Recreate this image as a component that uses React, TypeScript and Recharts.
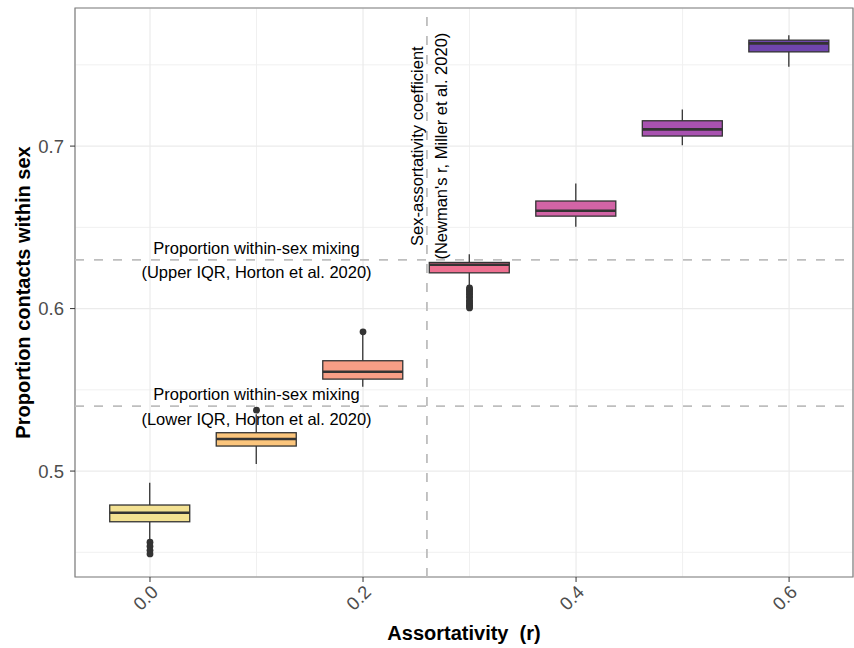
import {
  Bar,
  CartesianGrid,
  ComposedChart,
  Label,
  ReferenceArea,
  ReferenceLine,
  Scatter,
  XAxis,
  YAxis,
} from "recharts";

// assortativity r values and box statistics
const assortativity = [0, 0.1, 0.2, 0.3, 0.4, 0.5, 0.6];
const whiskerLow = [0.458, 0.5043, 0.5519, 0.6134, 0.6503, 0.7006, 0.7488];
const lowerQuartile = [0.4688, 0.5154, 0.5566, 0.622, 0.6569, 0.7062, 0.758];
const medians = [0.4743, 0.5197, 0.5611, 0.627, 0.6602, 0.7103, 0.7632];
const upperQuartile = [0.4791, 0.5236, 0.5679, 0.6284, 0.6662, 0.7156, 0.7652];
const whiskerHigh = [0.4928, 0.535, 0.5837, 0.6335, 0.677, 0.7226, 0.7683];

const outlierR = [
  0, 0, 0, 0, 0.1, 0.2,
  0.3, 0.3, 0.3, 0.3, 0.3, 0.3, 0.3, 0.3, 0.3, 0.3, 0.3, 0.3, 0.3,
];
const outlierValues = [
  0.4562, 0.4538, 0.4512, 0.449, 0.5375, 0.5857,
  0.6128, 0.6117, 0.6109, 0.6096, 0.6088, 0.6074, 0.6066, 0.6051, 0.6043, 0.6032, 0.6021, 0.6013, 0.6004,
];

const xTicks = [0, 0.2, 0.4, 0.6];
const yTicks = [0.5, 0.6, 0.7];
const xMinor = [0.1, 0.3, 0.5];
const yMinor = [0.45, 0.55, 0.65, 0.75];

const hortonUpper = 0.63;
const hortonLower = 0.54;
const newmanR = 0.26;
const noteX = 0.1;
const newmanNoteY = 0.7;

const upperNote = ["Proportion within-sex mixing", "(Upper IQR, Horton et al. 2020)"];
const lowerNote = ["Proportion within-sex mixing", "(Lower IQR, Horton et al. 2020)"];
const newmanNote = ["Sex-assortativity coefficient", "(Newman's r, Miller et al. 2020)"];

const BOX_FILLS = ["#F3E192", "#FBC57C", "#F89E86", "#EE7090", "#D264A6", "#A852B0", "#6F45AE"];
const X_DOMAIN = [-0.0704, 0.66];
const Y_DOMAIN = [0.4348, 0.785];
const FONT = "'Liberation Sans', Arial, sans-serif";

const boxes = assortativity.map((r, i) => ({
  r,
  lo: whiskerLow[i],
  q1: lowerQuartile[i],
  med: medians[i],
  q3: upperQuartile[i],
  hi: whiskerHigh[i],
}));
const outliers = outlierR.map((r, i) => ({ r, value: outlierValues[i] }));

// minor grid: use the axis scale when it is handed over, else map across the plot offset
const minorVertical = ({ xAxis, offset }: any) => {
  if (xAxis && typeof xAxis.scale === "function") return xMinor.map((v) => xAxis.scale(v));
  const left = offset?.left ?? 75;
  const w = offset?.width ?? 778;
  return xMinor.map((v) => left + ((v - X_DOMAIN[0]) / (X_DOMAIN[1] - X_DOMAIN[0])) * w);
};
const minorHorizontal = ({ yAxis, offset }: any) => {
  if (yAxis && typeof yAxis.scale === "function") return yMinor.map((v) => yAxis.scale(v));
  const top = offset?.top ?? 8;
  const h = offset?.height ?? 569;
  return yMinor.map((v) => top + ((Y_DOMAIN[1] - v) / (Y_DOMAIN[1] - Y_DOMAIN[0])) * h);
};

function BoxShape(props: any) {
  const { x, y, width, height, payload, index } = props;
  const top = Math.min(y, y + height);
  const h = Math.abs(height);
  const k = h / (payload.q3 - payload.q1);
  const toY = (v: number) => top + (payload.q3 - v) * k;
  const cx = x + width / 2;
  const ink = "#333333";
  return (
    <g>
      <line x1={cx} x2={cx} y1={toY(payload.hi)} y2={top} stroke={ink} strokeWidth={1.3} />
      <line x1={cx} x2={cx} y1={top + h} y2={toY(payload.lo)} stroke={ink} strokeWidth={1.3} />
      <rect x={x} y={top} width={width} height={h} fill={BOX_FILLS[index]} stroke={ink} strokeWidth={1.3} />
      <line x1={x} x2={x + width} y1={toY(payload.med)} y2={toY(payload.med)} stroke={ink} strokeWidth={2.6} />
    </g>
  );
}

function HorizontalNote({ cx, cy, lines }: any) {
  return (
    <text x={cx} textAnchor="middle" fontSize={16.5} fill="#000">
      <tspan x={cx} y={cy - 6}>{lines[0]}</tspan>
      <tspan x={cx} y={cy + 18.5}>{lines[1]}</tspan>
    </text>
  );
}

// label of the vertical reference line; its height is placed along the y range
function NewmanLabel({ viewBox }: any) {
  const cx = viewBox.x;
  const frac = (Y_DOMAIN[1] - newmanNoteY) / (Y_DOMAIN[1] - Y_DOMAIN[0]);
  const cy = viewBox.y + frac * viewBox.height;
  return (
    <text transform={`rotate(-90, ${cx}, ${cy})`} textAnchor="middle" fontSize={16.5} fill="#000">
      <tspan x={cx} y={cy - 4}>{newmanNote[0]}</tspan>
      <tspan x={cx} y={cy + 20}>{newmanNote[1]}</tspan>
    </text>
  );
}

function XTick({ x, y, payload }: any) {
  return (
    <text
      x={x}
      y={y}
      dy="0.71em"
      transform={`rotate(-45, ${x}, ${y})`}
      textAnchor="end"
      fontSize={18.5}
      fill="#4D4D4D"
    >
      {payload.value.toFixed(1)}
    </text>
  );
}

export default function App() {
  return (
    <div style={{ width: 854, height: 648, fontFamily: FONT, background: "#fff" }}>
      <style>{`body { margin: 0; }`}</style>
      <ComposedChart
        width={854}
        height={648}
        data={boxes}
        margin={{ top: 8, right: 1, bottom: 0, left: 0 }}
      >
        <CartesianGrid
          stroke="#F0F0F0"
          strokeWidth={1}
          verticalCoordinatesGenerator={minorVertical}
          horizontalCoordinatesGenerator={minorHorizontal}
        />
        <CartesianGrid stroke="#EBEBEB" strokeWidth={1.2} />
        <XAxis
          type="number"
          dataKey="r"
          domain={X_DOMAIN}
          allowDataOverflow
          ticks={xTicks}
          height={71}
          axisLine={false}
          tickLine={{ stroke: "#333" }}
          tickSize={5}
          tickMargin={2}
          tick={<XTick />}
        >
          <Label
            content={({ viewBox }: any) => (
              <text
                x={viewBox.x + viewBox.width / 2}
                y={viewBox.y + 63}
                textAnchor="middle"
                fontSize={20}
                fontWeight="bold"
                fill="#000"
                style={{ whiteSpace: "pre" }}
              >
                Assortativity  (r)
              </text>
            )}
          />
        </XAxis>
        <YAxis
          type="number"
          domain={Y_DOMAIN}
          allowDataOverflow
          ticks={yTicks}
          width={75}
          axisLine={false}
          tickLine={{ stroke: "#333" }}
          tickSize={5}
          tickMargin={6}
          tickFormatter={(v: number) => v.toFixed(1)}
          tick={{ fill: "#4D4D4D", fontSize: 18.5 }}
        >
          <Label
            content={({ viewBox }: any) => {
              const tx = viewBox.x + 30;
              const ty = viewBox.y + viewBox.height / 2;
              return (
                <text
                  x={tx}
                  y={ty}
                  transform={`rotate(-90, ${tx}, ${ty})`}
                  textAnchor="middle"
                  fontSize={20}
                  fontWeight="bold"
                  fill="#000"
                >
                  Proportion contacts within sex
                </text>
              );
            }}
          />
        </YAxis>
        <ReferenceLine y={hortonUpper} stroke="#BEBEBE" strokeWidth={1.8} strokeDasharray="9 10" />
        <ReferenceLine y={hortonLower} stroke="#BEBEBE" strokeWidth={1.8} strokeDasharray="9 10" />
        <ReferenceLine
          x={newmanR}
          stroke="#BEBEBE"
          strokeWidth={1.8}
          strokeDasharray="9 10"
          label={<NewmanLabel />}
        />
        <Bar
          dataKey={(d: any) => [d.q1, d.q3]}
          barSize={80}
          shape={<BoxShape />}
          isAnimationActive={false}
        />
        <Scatter
          data={outliers}
          dataKey="value"
          isAnimationActive={false}
          shape={(p: any) => <circle cx={p.cx} cy={p.cy} r={3.4} fill="#333333" />}
        />
        <Scatter
          data={[{ r: noteX, value: hortonUpper }]}
          dataKey="value"
          isAnimationActive={false}
          shape={(p: any) => <HorizontalNote cx={p.cx} cy={p.cy} lines={upperNote} />}
        />
        <Scatter
          data={[{ r: noteX, value: hortonLower }]}
          dataKey="value"
          isAnimationActive={false}
          shape={(p: any) => <HorizontalNote cx={p.cx} cy={p.cy} lines={lowerNote} />}
        />
        <ReferenceArea
          x1={X_DOMAIN[0]}
          x2={X_DOMAIN[1]}
          y1={Y_DOMAIN[0]}
          y2={Y_DOMAIN[1]}
          fill="none"
          stroke="#7F7F7F"
          strokeWidth={1.2}
          ifOverflow="visible"
        />
      </ComposedChart>
    </div>
  );
}
